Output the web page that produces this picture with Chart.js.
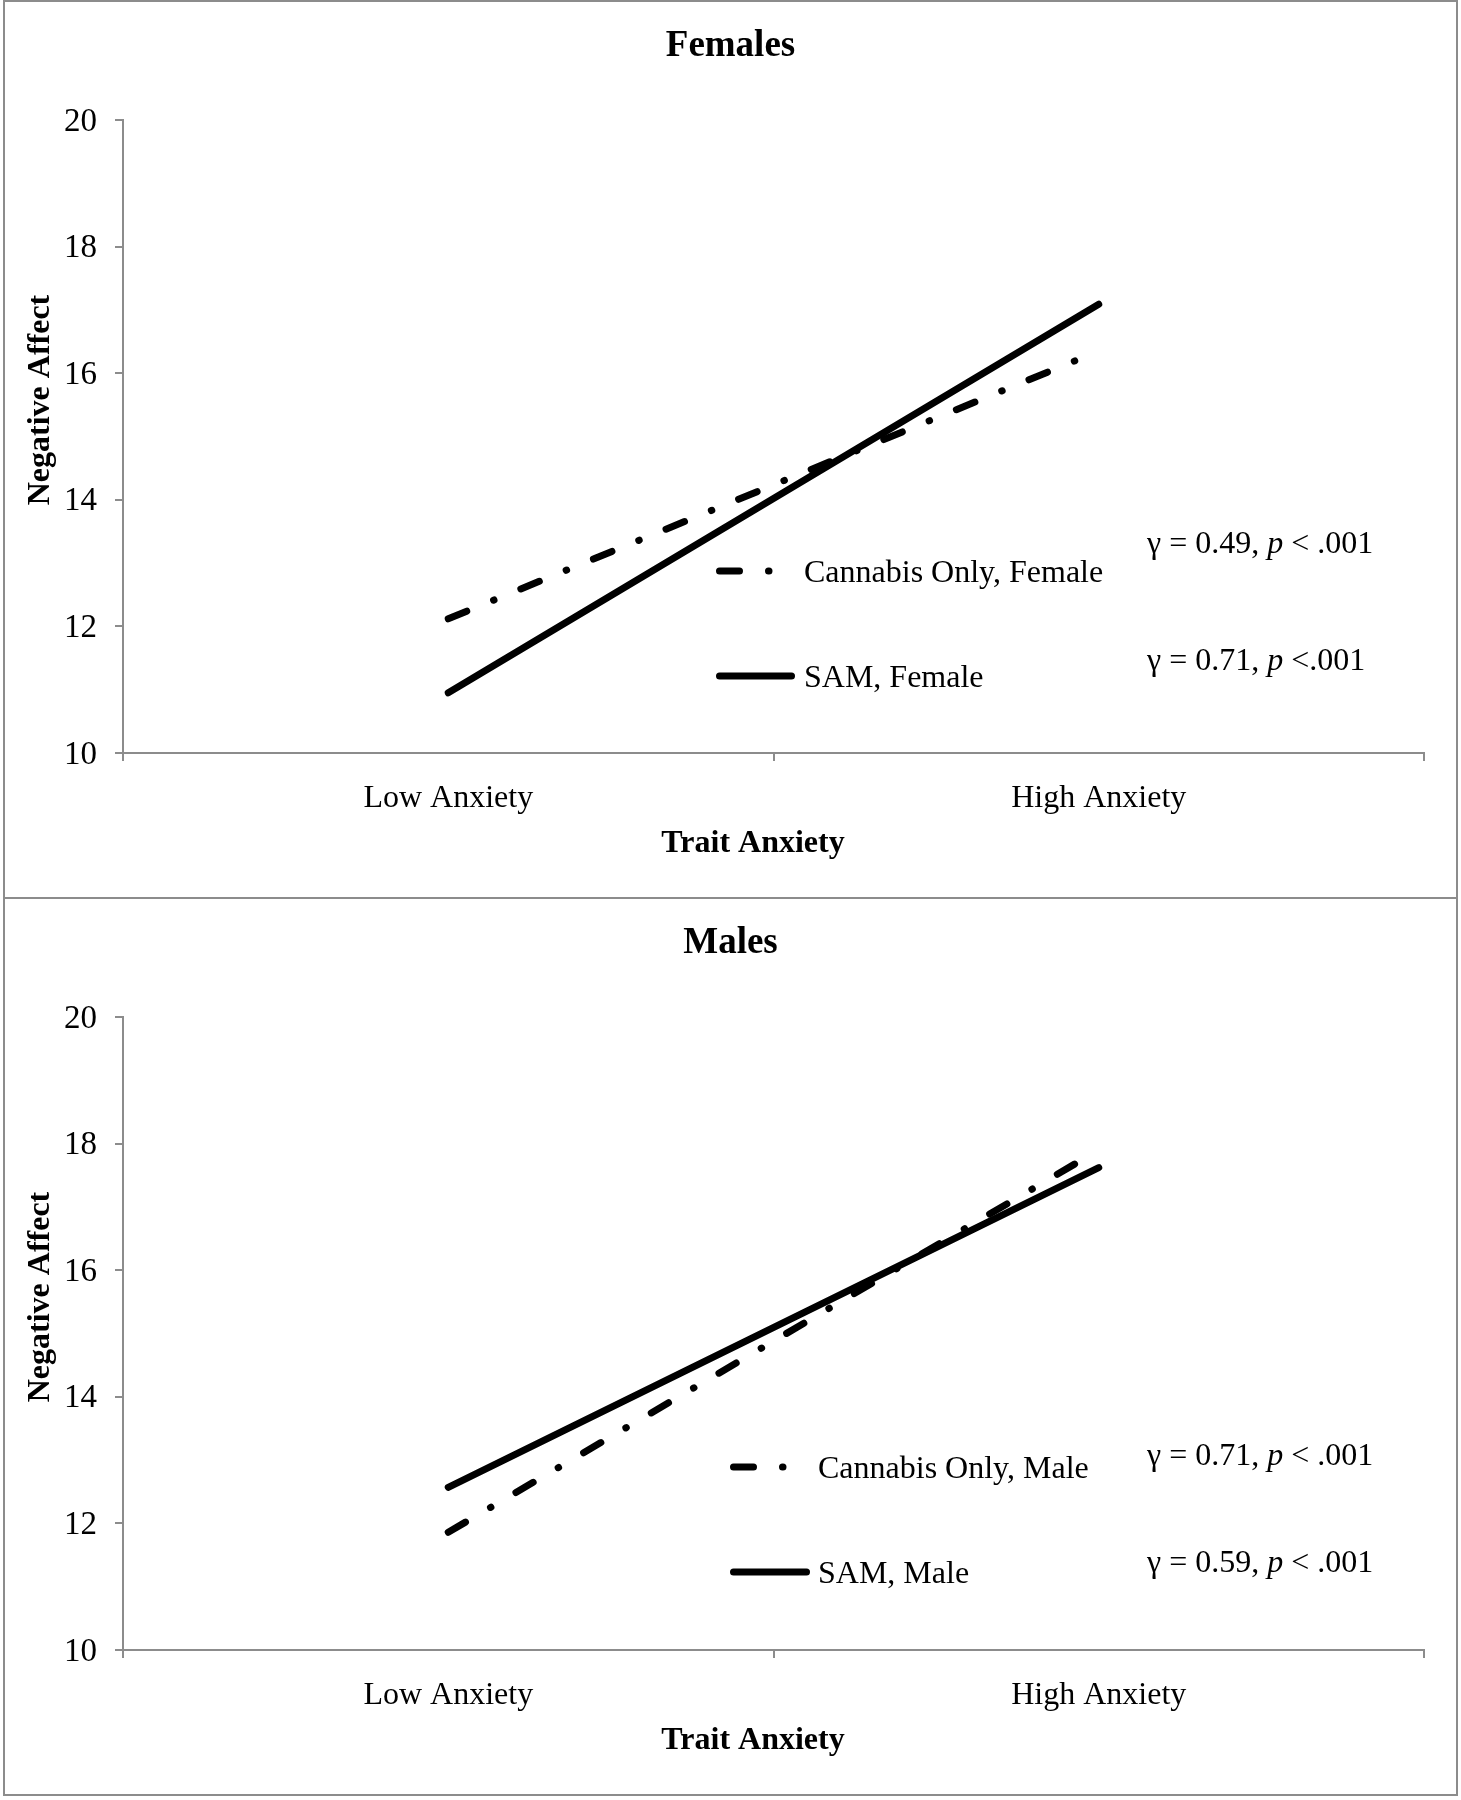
<!DOCTYPE html>
<html>
<head>
<meta charset="utf-8">
<title>Negative Affect by Trait Anxiety</title>
<script src="https://cdn.jsdelivr.net/npm/chart.js@4.4.0/dist/chart.umd.min.js"></script>
<style>
  body { margin: 0; background: #fff; }
  .panel {
    position: absolute; left: 3px; width: 1455px; height: 899px;
    box-sizing: border-box; border: 2px solid #8c8c8c; background: #fff;
  }
  .panel canvas { display: block; }
</style>
</head>
<body>
<div class="panel" style="top:0"><canvas id="femaleChart" width="1451" height="895"></canvas></div>
<div class="panel" style="top:897px"><canvas id="maleChart" width="1451" height="895"></canvas></div>

<script>
// data
const anxietyLevels = ['Low Anxiety', 'High Anxiety'];
const femaleCannabis = [12.12, 16.35];
const femaleSam = [10.95, 17.09];
const maleCannabis = [11.86, 17.9];
const maleSam = [12.57, 17.62];
const yMin = 10;
const yMax = 20;
const yStep = 2;
// slope per line: [gamma, p]
const femaleStats = [['0.49', '< .001'], ['0.71', '<.001']];
const maleStats = [['0.71', '< .001'], ['0.59', '< .001']];

const SERIF = '"Liberation Serif", "Times New Roman", serif';
const AXIS_GREY = '#8c8c8c';

// axis titles, legend and slope labels drawn straight on the canvas
const panelAnnotations = {
    id: 'panelAnnotations',
    afterDatasetsDraw(chart, args, opts) {
        const ctx = chart.ctx;
        ctx.save();
        ctx.fillStyle = '#000';
        ctx.textBaseline = 'middle';

        // axis titles
        ctx.font = 'bold 32px ' + SERIF;
        ctx.textAlign = 'center';
        ctx.fillText(opts.xTitle, opts.xTitlePos.x, opts.xTitlePos.y);
        ctx.save();
        ctx.translate(opts.yTitlePos.x, opts.yTitlePos.y);
        ctx.rotate(-Math.PI / 2);
        ctx.fillText(opts.yTitle, 0, 0);
        ctx.restore();

        // legend
        ctx.textAlign = 'left';
        ctx.font = '32px ' + SERIF;
        chart.data.datasets.forEach((ds, i) => {
            const item = opts.legend[i];
            ctx.save();
            ctx.strokeStyle = ds.borderColor;
            ctx.lineWidth = ds.borderWidth;
            ctx.lineCap = 'round';
            ctx.setLineDash(ds.borderDash || []);
            ctx.beginPath();
            ctx.moveTo(item.x, item.y);
            ctx.lineTo(item.x + item.len, item.y);
            ctx.stroke();
            ctx.restore();
            ctx.fillText(ds.label, item.textX, item.y + 3);
        });

        // gamma / p labels
        opts.stats.forEach((s, i) => {
            const pos = opts.statPos[i];
            const parts = [
                ['γ = ' + s[0] + ', ', false],
                ['p', true],
                [' ' + s[1], false]
            ];
            let x = pos.x;
            parts.forEach(([txt, italic]) => {
                ctx.font = (italic ? 'italic ' : '') + '32px ' + SERIF;
                ctx.fillText(txt, x, pos.y);
                x += ctx.measureText(txt).width;
            });
        });
        ctx.restore();
    }
};

function makePanel(canvasId, title, sex, cannabis, sam, stats, place) {
    const ctx = document.getElementById(canvasId);
    return new Chart(ctx.getContext('2d'), {
        type: 'line',
        data: {
            labels: anxietyLevels,
            datasets: [
                {
                    label: 'Cannabis Only, ' + sex,
                    data: cannabis,
                    borderColor: '#000',
                    borderWidth: 7,
                    borderDash: [20, 29, 0.5, 29],
                    borderCapStyle: 'round',
                    pointRadius: 0,
                    tension: 0
                },
                {
                    label: 'SAM, ' + sex,
                    data: sam,
                    borderColor: '#000',
                    borderWidth: 7,
                    borderCapStyle: 'round',
                    pointRadius: 0,
                    tension: 0
                }
            ]
        },
        options: {
            responsive: false,
            animation: false,
            layout: { padding: { left: 32, right: 32, top: 0, bottom: 33 } },
            plugins: {
                legend: { display: false },
                tooltip: { enabled: false },
                title: {
                    display: true,
                    text: title,
                    color: '#000',
                    font: { family: SERIF, size: 37, weight: 'bold' },
                    padding: { top: 22, bottom: 51.6 }
                },
                panelAnnotations: {
                    xTitle: 'Trait Anxiety',
                    xTitlePos: { x: 748, y: 842 },
                    yTitle: 'Negative Affect',
                    yTitlePos: { x: 36, y: 398 },
                    legend: place.legend,
                    stats: stats,
                    statPos: place.stats
                }
            },
            scales: {
                x: {
                    offset: true,
                    afterFit: (scale) => { scale.height = 111; },
                    ticks: { color: '#000', padding: 18, font: { family: SERIF, size: 32 } },
                    grid: { offset: true, drawOnChartArea: false, tickLength: 8, color: AXIS_GREY, lineWidth: 2 },
                    border: { color: AXIS_GREY, width: 2 }
                },
                y: {
                    min: yMin,
                    max: yMax,
                    afterFit: (scale) => { scale.width = 86; },
                    ticks: { stepSize: yStep, color: '#000', padding: 18, labelOffset: 2, font: { family: SERIF, size: 33 } },
                    grid: { drawOnChartArea: false, tickLength: 8, color: AXIS_GREY, lineWidth: 2 },
                    border: { color: AXIS_GREY, width: 2 }
                }
            }
        },
        plugins: [panelAnnotations]
    });
}

makePanel('femaleChart', 'Females', 'Female', femaleCannabis, femaleSam, femaleStats, {
    legend: [
        { x: 714.5, y: 569, len: 50, textX: 799 },
        { x: 714.5, y: 674, len: 72, textX: 799 }
    ],
    stats: [{ x: 1142, y: 543 }, { x: 1142, y: 660 }]
});

makePanel('maleChart', 'Males', 'Male', maleCannabis, maleSam, maleStats, {
    legend: [
        { x: 728.5, y: 568, len: 50, textX: 813 },
        { x: 728.5, y: 673, len: 73, textX: 813 }
    ],
    stats: [{ x: 1142, y: 558 }, { x: 1142, y: 665 }]
});
</script>
</body>
</html>
